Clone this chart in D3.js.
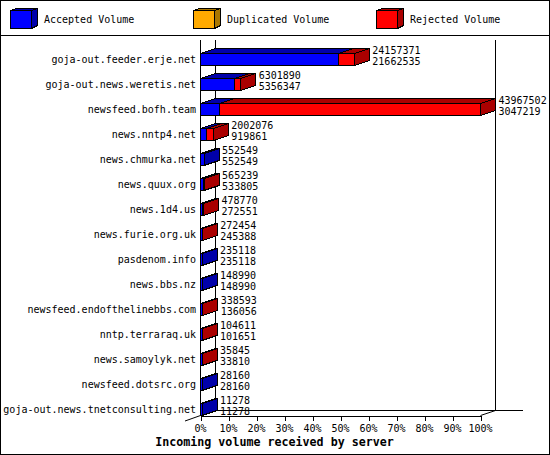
<!DOCTYPE html>
<html lang="en">
<head>
  <meta charset="UTF-8">
  <title>Incoming volume received by server</title>
  <script src="https://cdnjs.cloudflare.com/ajax/libs/d3/7.8.5/d3.min.js"></script>
  <style>
    html, body { margin: 0; padding: 0; background: #fff; }
    svg { display: block; }
    text { font-family: "DejaVu Sans Mono", monospace; font-size: 10px; fill: #000; }
    .title { font-size: 11.67px; font-weight: bold; }
    .shape { stroke: #000; stroke-width: 1; shape-rendering: crispEdges; }
    .rule { stroke: #000; stroke-width: 1; fill: none; shape-rendering: crispEdges; }
  </style>
</head>
<body>
  <svg></svg>
  <script>
    var categories = [
      'goja-out.feeder.erje.net', 'goja-out.news.weretis.net', 'newsfeed.bofh.team',
      'news.nntp4.net', 'news.chmurka.net', 'news.quux.org', 'news.1d4.us',
      'news.furie.org.uk', 'pasdenom.info', 'news.bbs.nz',
      'newsfeed.endofthelinebbs.com', 'nntp.terraraq.uk', 'news.samoylyk.net',
      'newsfeed.dotsrc.org', 'goja-out.news.tnetconsulting.net'
    ];
    var totalVolume = [24157371, 6301890, 43967502, 2002076, 552549, 565239, 478770,
      272454, 235118, 148990, 338593, 104611, 35845, 28160, 11278];
    var acceptedVolume = [21662535, 5356347, 3047219, 919861, 552549, 533805, 272551,
      245388, 235118, 148990, 136056, 101651, 33810, 28160, 11278];
    var percentTicks = [0, 10, 20, 30, 40, 50, 60, 70, 80, 90, 100];
    var legendNames = ['Accepted Volume', 'Duplicated Volume', 'Rejected Volume'];
    var legendColors = ['#0000ff', '#ffaa00', '#ff0000'];
    var legendDark = ['#0000aa', '#aa7700', '#aa0000'];

    var width = 550, height = 455;
    var depthX = 15, depthY = 5;
    var maxVolume = d3.max(totalVolume);

    var svg = d3.select('svg').attr('width', width).attr('height', height);

    var xScale = d3.scaleLinear().domain([0, 100]).range([200, 480]);
    var yScale = d3.scaleBand().domain(categories).range([40, 415]);
    var pct = function(v) { return v / maxVolume * 100; };

    function poly(points) { return 'M' + points.join('L') + 'Z'; }

    // Outer frame and legend separator
    svg.append('rect').attr('class', 'rule')
      .attr('x', 0.5).attr('y', 0.5).attr('width', width - 1).attr('height', height - 1);
    svg.append('path').attr('class', 'rule').attr('d', 'M0,35.5H550');

    // Legend
    var legend = svg.append('g').selectAll('g').data(legendNames).enter().append('g')
      .attr('transform', function(d, i) { return 'translate(' + [10, 193, 376][i] + ',0)'; });
    legend.append('path').attr('class', 'shape')
      .attr('fill', function(d, i) { return legendDark[i]; })
      .attr('d', 'M0.5,10.5L6.5,8.5H27.5L21.5,10.5Z');
    legend.append('path').attr('class', 'shape')
      .attr('fill', function(d, i) { return legendDark[i]; })
      .attr('d', 'M21.5,10.5L27.5,8.5V25.5L21.5,28.5Z');
    legend.append('rect').attr('class', 'shape')
      .attr('x', 0.5).attr('y', 10.5).attr('width', 21).attr('height', 18)
      .attr('fill', function(d, i) { return legendColors[i]; });
    legend.append('text').attr('x', 34).attr('y', 23).text(function(d) { return d; });

    // Chart walls and floor
    var front = 415.5, back = front - depthY;
    var walls = svg.append('g');
    walls.append('path').attr('class', 'rule').attr('d', 'M200.5,40V' + front);
    walls.append('path').attr('class', 'rule').attr('d', 'M215.5,40V' + back);
    walls.append('path').attr('class', 'rule').attr('d', 'M495.5,40V' + back);
    walls.append('path').attr('class', 'rule').attr('d', 'M215.5,' + back + 'H523');
    walls.append('path').attr('d', 'M185,421L200.5,' + front + 'M480.5,' + front + 'L495.5,' + back)
      .attr('stroke', '#000').attr('fill', 'none');

    // Axis along the front of the floor
    var axis = svg.append('g')
      .attr('transform', 'translate(0.5,' + front + ')')
      .call(d3.axisBottom(xScale).tickValues(percentTicks).tickSize(5).tickSizeOuter(0).tickPadding(4)
        .tickFormat(function(d) { return d + '%'; }));
    axis.selectAll('path,line').attr('stroke', '#000').style('shape-rendering', 'crispEdges');
    axis.selectAll('text').attr('fill', '#000').attr('dx', -0.5);
    axis.attr('font-family', null).attr('font-size', null);

    // Bars, drawn as accepted then rejected segment with 3d top and end
    var rows = svg.append('g').selectAll('g').data(categories).enter().append('g');

    rows.each(function(name, i) {
      var g = d3.select(this);
      var top = yScale(name) + 13.5, bottom = top + 12;
      var x0 = xScale(0) + 0.5;
      var xA = Math.max(xScale(pct(acceptedVolume[i])) + 0.5, x0 + 1.5);
      var xT = Math.max(xScale(pct(totalVolume[i])) + 0.5, xA);
      var segs = [{a: x0, b: xA, c: 0}];
      if (totalVolume[i] > acceptedVolume[i]) segs.push({a: xA, b: xT, c: 2});
      segs.forEach(function(s) {
        g.append('path').attr('class', 'shape').attr('fill', legendDark[s.c])
          .attr('d', poly([[s.a, top], [s.a + depthX, top - depthY], [s.b + depthX, top - depthY], [s.b, top]]));
      });
      var last = segs[segs.length - 1];
      g.append('path').attr('class', 'shape').attr('fill', legendDark[last.c])
        .attr('d', poly([[xT, top], [xT + depthX, top - depthY], [xT + depthX, bottom - depthY], [xT, bottom]]));
      segs.forEach(function(s) {
        g.append('rect').attr('class', 'shape').attr('fill', legendColors[s.c])
          .attr('x', s.a).attr('y', top).attr('width', s.b - s.a).attr('height', bottom - top);
      });
      g.append('text').attr('x', 196).attr('y', top + 9.5).attr('text-anchor', 'end').text(name);
      g.append('text').attr('x', xT + depthX + 3).attr('y', top + 0.5).text(totalVolume[i]);
      g.append('text').attr('x', xT + depthX + 3).attr('y', top + 11.5).text(acceptedVolume[i]);
    });

    svg.append('text').attr('class', 'title')
      .attr('x', 274.5).attr('y', 446).attr('text-anchor', 'middle')
      .text('Incoming volume received by server');
  </script>
</body>
</html>
